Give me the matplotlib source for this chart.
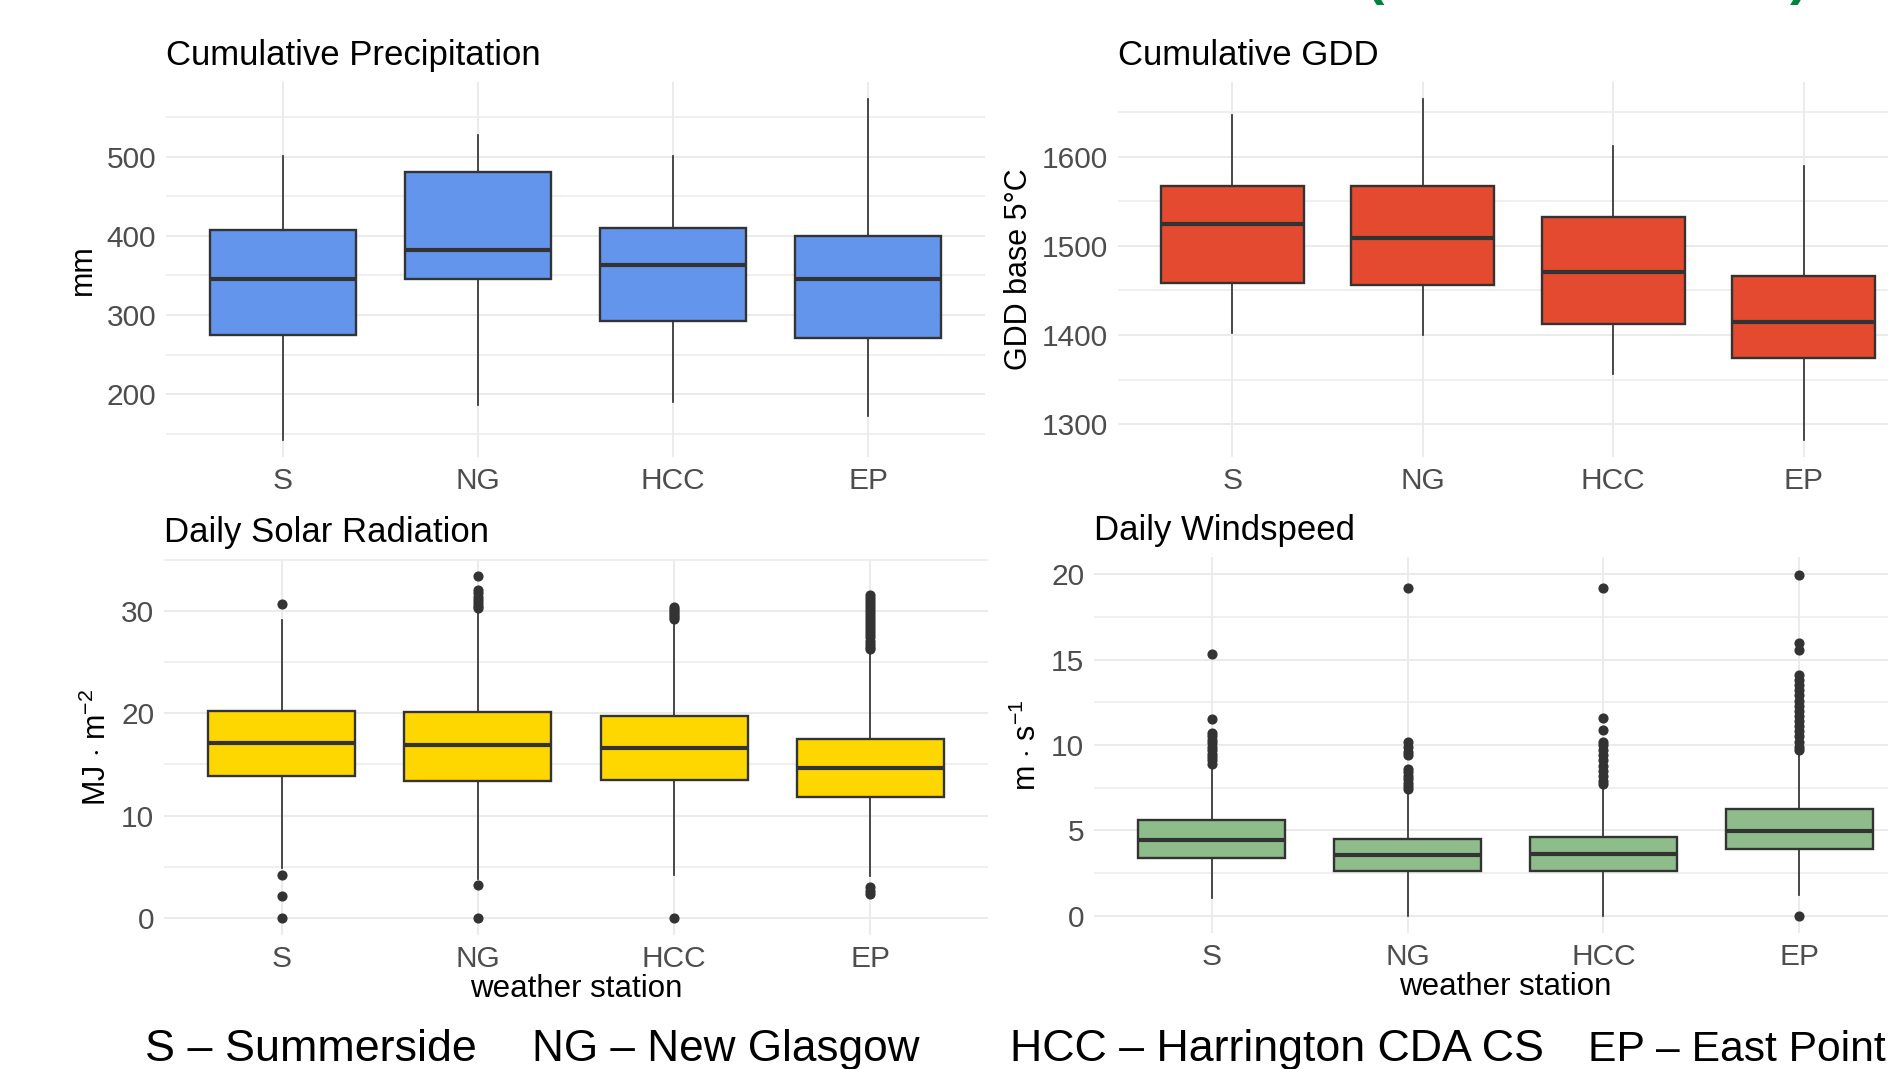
# Boxplots de estaciones meteorologicas (estilo ggplot theme_minimal)
import matplotlib
matplotlib.use("Agg")
import matplotlib.pyplot as plt
from matplotlib import font_manager
from matplotlib.ticker import MultipleLocator

# Datos
estaciones = ['S', 'NG', 'HCC', 'EP']

# Precipitacion acumulada (mm)
precip_whislo = [143, 186, 190, 173]
precip_q1 = [275, 345, 292, 271]
precip_med = [346, 382, 363, 346]
precip_q3 = [407, 480, 410, 400]
precip_whishi = [501, 527, 501, 573]
precip_fliers = [[], [], [], []]

# GDD acumulados base 5C
gdd_whislo = [1402, 1400, 1356, 1282]
gdd_q1 = [1458, 1456, 1412, 1374]
gdd_med = [1525, 1509, 1471, 1414]
gdd_q3 = [1567, 1567, 1533, 1466]
gdd_whishi = [1647, 1665, 1612, 1590]
gdd_fliers = [[], [], [], []]

# Radiacion solar diaria (MJ m-2)
rad_whislo = [4.9, 3.8, 4.2, 4.1]
rad_q1 = [13.9, 13.4, 13.5, 11.8]
rad_med = [17.1, 16.9, 16.6, 14.6]
rad_q3 = [20.2, 20.1, 19.7, 17.5]
rad_whishi = [29.1, 30.1, 29.0, 26.1]
rad_fliers = [
    [30.7, 4.2, 2.1, 0.0],
    [33.4, 32.0, 31.7, 31.4, 31.1, 30.8, 30.5, 30.3, 3.2, 0.0],
    [30.4, 30.2, 30.0, 29.8, 29.6, 29.4, 29.2, 0.0],
    [31.6, 31.3, 31.0, 30.7, 30.4, 30.1, 29.8, 29.5, 29.2, 28.9, 28.6,
     28.3, 28.0, 27.7, 27.4, 27.1, 26.8, 26.5, 26.3, 3.0, 2.6, 2.3],
]

# Velocidad del viento diaria (m s-1)
viento_whislo = [1.06, 0.0, 0.0, 1.2]
viento_q1 = [3.4, 2.6, 2.65, 3.92]
viento_med = [4.45, 3.54, 3.64, 4.96]
viento_q3 = [5.6, 4.5, 4.64, 6.23]
viento_whishi = [8.7, 7.35, 7.55, 9.5]
viento_fliers = [
    [15.3, 11.55, 10.7, 10.5, 10.3, 10.1, 9.9, 9.7, 9.5, 9.3, 9.1, 8.9],
    [19.2, 10.15, 9.9, 9.6, 9.4, 8.6, 8.4, 8.2, 8.0, 7.8, 7.6, 7.45],
    [19.2, 11.6, 10.9, 10.2, 10.0, 9.7, 9.4, 9.1, 8.8, 8.5, 8.2, 7.9, 7.7],
    [19.96, 15.97, 15.55, 14.07, 13.8, 13.5, 13.2, 12.9, 12.6, 12.3, 12.0,
     11.7, 11.4, 11.1, 10.8, 10.5, 10.2, 9.9, 9.7, 0.0],
]

leyenda = ['S – Summerside', 'NG – New Glasgow',
           'HCC – Harrington CDA CS', 'EP – East Point']

# Fuentes
nombres = {f.name for f in font_manager.fontManager.ttflist}
fuente = 'Liberation Sans' if 'Liberation Sans' in nombres else 'DejaVu Sans'
plt.rcParams['font.family'] = [fuente, 'DejaVu Sans']
plt.rcParams['mathtext.fontset'] = 'custom'
plt.rcParams['mathtext.rm'] = fuente
plt.rcParams['mathtext.it'] = fuente

W, H = 1888, 1069
fig = plt.figure(figsize=(W / 100, H / 100), dpi=100)

def ejes(x0, y0, x1, y1):
    # rectangulo en pixeles (arriba-izquierda, abajo-derecha)
    return fig.add_axes([x0 / W, 1 - y1 / H, (x1 - x0) / W, (y1 - y0) / H])

def panel(ax, whislo, q1, med, q3, whishi, fliers, color, titulo, ylab,
          ylim, mayor, menor, xlab=None):
    stats = []
    for i in range(len(estaciones)):
        stats.append(dict(whislo=whislo[i], q1=q1[i], med=med[i], q3=q3[i],
                          whishi=whishi[i], fliers=fliers[i]))
    ax.bxp(stats, positions=range(1, 5), widths=0.75, patch_artist=True,
           showcaps=False,
           boxprops=dict(facecolor=color, edgecolor='#333333', linewidth=1.7),
           medianprops=dict(color='#333333', linewidth=3.0, solid_capstyle='butt'),
           whiskerprops=dict(color='#333333', linewidth=1.25),
           flierprops=dict(marker='o', markersize=6.3, markerfacecolor='#333333',
                           markeredgecolor='#333333'))
    ax.set_xlim(0.4, 4.6)
    ax.set_ylim(*ylim)
    ax.set_xticks(range(1, 5))
    ax.set_xticklabels(estaciones)
    ax.yaxis.set_major_locator(MultipleLocator(mayor))
    ax.yaxis.set_minor_locator(MultipleLocator(menor))
    ax.grid(True, which='major', color='#EBEBEB', linewidth=1.4)
    ax.grid(True, which='minor', axis='y', color='#EBEBEB', linewidth=1.1)
    ax.set_axisbelow(True)
    for s in ax.spines.values():
        s.set_visible(False)
    ax.tick_params(which='both', length=0, labelsize=21.5, labelcolor='#4D4D4D', pad=7)
    ax.set_title(titulo, loc='left', fontsize=25, pad=12.5)
    ax.set_ylabel(ylab, fontsize=22, labelpad=6)
    if xlab:
        ax.set_xlabel(xlab, fontsize=22.5, labelpad=1)

ax1 = ejes(166, 82, 985, 457)
panel(ax1, precip_whislo, precip_q1, precip_med, precip_q3, precip_whishi,
      precip_fliers, '#6495ED', 'Cumulative Precipitation', 'mm',
      (121, 594), 100, 50)

ax2 = ejes(1118, 82, 1918, 457)
panel(ax2, gdd_whislo, gdd_q1, gdd_med, gdd_q3, gdd_whishi, gdd_fliers,
      '#E34A2F', 'Cumulative GDD', 'GDD base 5°C', (1263, 1684), 100, 50)

ax3 = ejes(164, 559, 988, 935)
panel(ax3, rad_whislo, rad_q1, rad_med, rad_q3, rad_whishi, rad_fliers,
      '#FFD700', 'Daily Solar Radiation', r'MJ $\cdot$ m$^{-2}$',
      (-1.67, 35.07), 10, 5, xlab='weather station')

ax4 = ejes(1094, 557, 1917, 933)
panel(ax4, viento_whislo, viento_q1, viento_med, viento_q3, viento_whishi,
      viento_fliers, '#8FBC8B', 'Daily Windspeed', r'm $\cdot$ s$^{-1}$',
      (-1, 21), 5, 2.5, xlab='weather station')

# Leyenda de estaciones al pie: se ajusta el tamano al ancho del original
renderer = fig.canvas.get_renderer()
xs_leyenda = [145, 532, 1010, 1588]
anchos = [331, 387, 535, 297]
for txt, x, ancho in zip(leyenda, xs_leyenda, anchos):
    t = fig.text(x / W, 1 - 1061 / H, txt, fontsize=30, color='black',
                 ha='left', va='baseline')
    w = t.get_window_extent(renderer).width
    t.set_fontsize(30 * ancho / w)

# Restos del titulo verde cortado arriba
for txt, x in zip(['(', ')'], [1375, 1799]):
    fig.text(x / W, 1 - 5 / H, txt, fontsize=40, fontweight='bold',
             color='#00843D', ha='center', va='bottom')

fig.savefig('out.png', dpi=100)
plt.close()
